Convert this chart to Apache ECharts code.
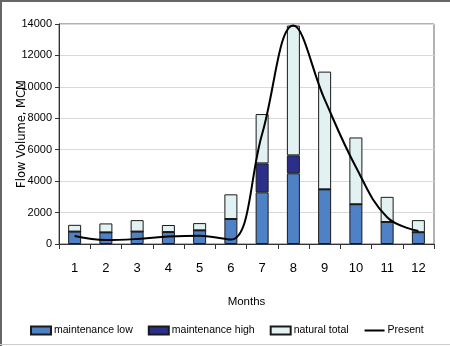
<!DOCTYPE html>
<html><head><meta charset="utf-8">
<script src="https://cdn.jsdelivr.net/npm/echarts@6/dist/echarts.min.js"></script>
<style>html,body{margin:0;padding:0;background:#fff}#c{width:450px;height:346px}</style>
</head><body><div id="c"></div>
<script>
const months = ['1','2','3','4','5','6','7','8','9','10','11','12'];
const maintenanceLow  = [790, 740, 790, 760, 870, 1590, 3290, 4500, 3480, 2530, 1400, 750];
const maintenanceHigh = [0, 0, 0, 0, 0, 0, 1840, 1140, 0, 0, 0, 0];
const naturalTotal    = [1220, 1310, 1520, 1210, 1330, 3160, 8270, 13900, 10970, 6780, 3000, 1520];
const present         = [510, 250, 320, 470, 530, 280, 7000, 13900, 9200, 4900, 1700, 830];
const yTicks = [0, 2000, 4000, 6000, 8000, 10000, 12000, 14000];

const naturalPart = naturalTotal.map((t, i) => t - maintenanceLow[i] - maintenanceHigh[i]);
const F = "'Liberation Sans',Arial,sans-serif";
const chart = echarts.init(document.getElementById('c'), null, {renderer: 'canvas'});
chart.setOption({
  animation: false,
  backgroundColor: '#fff',
  textStyle: {fontFamily: F},
  grid: {left: 59, right: 16, top: 24, bottom: 102, show: true, borderColor: '#666', borderWidth: 1,
         backgroundColor: 'transparent', containLabel: false, outerBoundsMode: 'none'},
  legend: {
    bottom: 10, left: 30, width: 420, padding: 0, itemWidth: 20, itemHeight: 8, itemGap: 15,
    textStyle: {fontFamily: F, fontSize: 10.5, color: '#000', padding: [0, 0, 0, -2]},
    data: [
      {name: 'maintenance low', icon: 'rect'},
      {name: 'maintenance high', icon: 'rect'},
      {name: 'natural total', icon: 'rect'},
      {name: 'Present', itemStyle: {color: 'transparent', borderWidth: 0, opacity: 0}}
    ]
  },
  xAxis: {
    type: 'category', data: months,
    name: 'Months', nameLocation: 'middle', nameGap: 52, nameMoveOverlap: false,
    nameTextStyle: {fontFamily: F, fontSize: 11.5, color: '#000'},
    axisLine: {lineStyle: {color: '#333', width: 1}},
    axisTick: {show: true, length: 5, lineStyle: {color: '#333'}},
    axisLabel: {fontFamily: F, fontSize: 13, color: '#000', margin: 18},
    splitLine: {show: false}
  },
  yAxis: {
    type: 'value', min: 0, max: 14000, interval: 2000,
    name: 'Flow Volume, MCM', nameLocation: 'middle', nameGap: 31, nameMoveOverlap: false,
    nameTextStyle: {fontFamily: "'DejaVu Sans',sans-serif", fontSize: 11.5, color: '#000'},
    axisLine: {show: true, lineStyle: {color: '#333', width: 1}},
    axisTick: {show: true, length: 4, lineStyle: {color: '#333'}},
    axisLabel: {fontFamily: F, fontSize: 11, color: '#000', margin: 7,
      formatter: v => yTicks.includes(v) ? String(v) : ''},
    splitLine: {show: true, lineStyle: {color: '#d9d9d9', width: 1}}
  },
  series: [
    {name: 'maintenance low', type: 'bar', stack: 's', barWidth: 13, data: maintenanceLow,
     itemStyle: {color: '#4f81c6', borderColor: '#1a1a1a', borderWidth: 1}},
    {name: 'maintenance high', type: 'bar', stack: 's', barWidth: 13, data: maintenanceHigh,
     itemStyle: {color: '#2b2f8a', borderColor: '#1a1a1a', borderWidth: 1}},
    {name: 'natural total', type: 'bar', stack: 's', barWidth: 13, data: naturalPart,
     itemStyle: {color: '#e2f2f2', borderColor: '#1a1a1a', borderWidth: 1}},
    {name: 'Present', type: 'line', data: present, smooth: 0.4, symbol: 'none',
     lineStyle: {color: '#000', width: 2}, itemStyle: {color: '#000'}, z: 5}
  ],
  graphic: [
    {type: 'line', shape: {x1: 0, y1: 1, x2: 450, y2: 1}, style: {stroke: '#666', lineWidth: 2}},
    {type: 'line', shape: {x1: 1, y1: 0, x2: 1, y2: 346}, style: {stroke: '#666', lineWidth: 2}},
    {type: 'line', shape: {x1: 0, y1: 344.5, x2: 450, y2: 344.5}, style: {stroke: '#ccc', lineWidth: 1}}
  ]
});
</script></body></html>
